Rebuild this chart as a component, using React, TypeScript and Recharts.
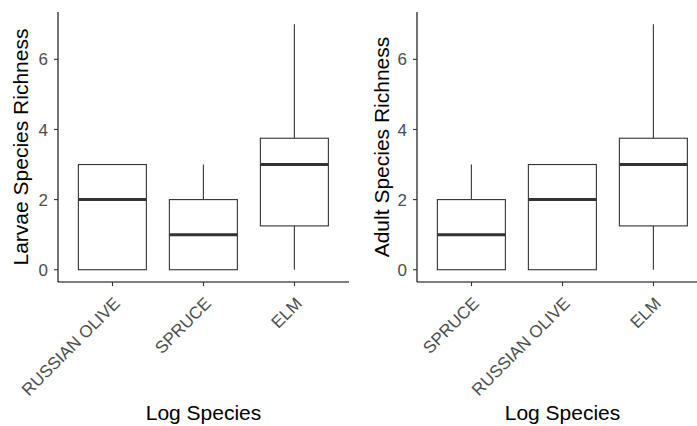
import React from 'react';
import { ComposedChart, XAxis, YAxis, Bar } from 'recharts';

// left panel: larvae
const larvaeSpecies = ['RUSSIAN OLIVE', 'SPRUCE', 'ELM'];
const larvaeMin = [0, 0, 0];
const larvaeQ1 = [0, 0, 1.25];
const larvaeMedian = [2, 1, 3];
const larvaeQ3 = [3, 2, 3.75];
const larvaeMax = [3, 3, 7];

// right panel: adults
const adultSpecies = ['SPRUCE', 'RUSSIAN OLIVE', 'ELM'];
const adultMin = [0, 0, 0];
const adultQ1 = [0, 0, 1.25];
const adultMedian = [1, 2, 3];
const adultQ3 = [2, 3, 3.75];
const adultMax = [3, 3, 7];

const yTicks = [0, 2, 4, 6];
const yDomain: [number, number] = [-0.35, 7.35];

const FONT = 'Arial, "Liberation Sans", sans-serif';
const LINE = '#333333';

interface BoxRow {
  species: string;
  min: number;
  q1: number;
  median: number;
  q3: number;
  max: number;
  box: [number, number];
}

const buildRows = (
  species: string[],
  min: number[],
  q1: number[],
  median: number[],
  q3: number[],
  max: number[]
): BoxRow[] =>
  species.map((s, i) => ({
    species: s,
    min: min[i],
    q1: q1[i],
    median: median[i],
    q3: q3[i],
    max: max[i],
    box: [q1[i], q3[i]],
  }));

const larvaeRows = buildRows(larvaeSpecies, larvaeMin, larvaeQ1, larvaeMedian, larvaeQ3, larvaeMax);
const adultRows = buildRows(adultSpecies, adultMin, adultQ1, adultMedian, adultQ3, adultMax);

interface BoxShapeProps {
  x: number;
  y: number;
  width: number;
  height: number;
  payload: BoxRow;
}

const BoxShape = ({ x, y, width, height, payload }: BoxShapeProps) => {
  const top = Math.min(y, y + height);
  const h = Math.abs(height);
  const perUnit = h / (payload.q3 - payload.q1);
  const py = (v: number) => top + (payload.q3 - v) * perUnit;
  const cx = x + width / 2;
  return (
    <g>
      {payload.max > payload.q3 && (
        <line x1={cx} x2={cx} y1={py(payload.q3)} y2={py(payload.max)} stroke={LINE} strokeWidth={1.1} />
      )}
      {payload.min < payload.q1 && (
        <line x1={cx} x2={cx} y1={py(payload.q1)} y2={py(payload.min)} stroke={LINE} strokeWidth={1.1} />
      )}
      <rect x={x} y={top} width={width} height={h} fill="#ffffff" stroke={LINE} strokeWidth={1.1} />
      <line x1={x} x2={x + width} y1={py(payload.median)} y2={py(payload.median)} stroke={LINE} strokeWidth={3} />
    </g>
  );
};

const renderBox = (p: unknown) => <BoxShape {...(p as BoxShapeProps)} />;

const XTick = (props: any) => {
  const { x, y, payload } = props;
  return (
    <text
      x={x}
      y={y}
      dy="0.71em"
      textAnchor="end"
      transform={`rotate(-45 ${x} ${y})`}
      fill="#4d4d4d"
      fontSize={17}
      fontFamily={FONT}
    >
      {payload.value}
    </text>
  );
};

const yTitle = (text: string, baseX: number) => (props: any) => {
  const vb = props.viewBox;
  const cx = vb.x + baseX;
  const cy = vb.y + vb.height / 2;
  return (
    <text
      x={cx}
      y={cy}
      textAnchor="middle"
      transform={`rotate(-90 ${cx} ${cy})`}
      fill="#000000"
      fontSize={21}
      fontFamily={FONT}
    >
      {text}
    </text>
  );
};

interface PanelProps {
  rows: BoxRow[];
  title: string;
  width: number;
  axisWidth: number;
  titleX: number;
  rightMargin: number;
}

const Panel = ({ rows, title, width, axisWidth, titleX, rightMargin }: PanelProps) => (
  <ComposedChart
    width={width}
    height={426}
    data={rows}
    margin={{ top: 12, right: rightMargin, bottom: 0, left: 0 }}
    barCategoryGap="12.5%"
  >
    <XAxis
      dataKey="species"
      type="category"
      height={144}
      padding={{ left: 9, right: 9 }}
      axisLine={{ stroke: '#000000', strokeWidth: 1.1 }}
      tickLine={{ stroke: LINE, strokeWidth: 1.1 }}
      tickSize={4}
      tickMargin={10}
      tick={<XTick />}
      interval={0}
      label={{
        value: 'Log Species',
        position: 'insideBottom',
        offset: 6,
        fill: '#000000',
        fontSize: 21,
        fontFamily: FONT,
      }}
    />
    <YAxis
      type="number"
      domain={yDomain}
      ticks={yTicks}
      allowDataOverflow
      width={axisWidth}
      axisLine={{ stroke: '#000000', strokeWidth: 1.1 }}
      tickLine={{ stroke: LINE, strokeWidth: 1.1 }}
      tickSize={4}
      tickMargin={6}
      tick={{ fill: '#4d4d4d', fontSize: 17, fontFamily: FONT }}
      label={yTitle(title, titleX)}
    />
    <Bar dataKey="box" shape={renderBox} isAnimationActive={false} />
  </ComposedChart>
);

export default function App() {
  return (
    <div
      style={{
        position: 'fixed',
        left: 0,
        top: 0,
        width: 697,
        height: 426,
        overflow: 'hidden',
        background: '#ffffff',
      }}
    >
      <div style={{ position: 'absolute', left: 0, top: 0 }}>
        <Panel rows={larvaeRows} title="Larvae Species Richness" width={350} axisWidth={58} titleX={28} rightMargin={1} />
      </div>
      <div style={{ position: 'absolute', left: 350, top: 0 }}>
        <Panel rows={adultRows} title="Adult Species Richness" width={358} axisWidth={67} titleX={39} rightMargin={0} />
      </div>
    </div>
  );
}
